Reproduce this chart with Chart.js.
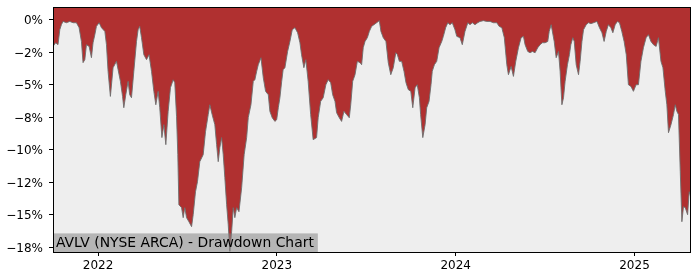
<!DOCTYPE html>
<html>
<head>
<meta charset="utf-8">
<script src="https://cdn.jsdelivr.net/npm/chart.js@4.4.1/dist/chart.umd.min.js"></script>
<style>
  html, body { margin: 0; padding: 0; background: #ffffff; }
  #wrap { width: 700px; height: 280px; position: relative; }
</style>
</head>
<body>
<div id="wrap"><canvas id="c" width="700" height="280"></canvas></div>
<script>
// Time (decimal years) and drawdown (%)
const years = [
  2021.748,2021.763,2021.776,2021.786,2021.795,2021.804,2021.823,2021.842,2021.860,2021.879,
  2021.894,2021.907,2021.916,2021.926,2021.935,2021.950,2021.963,2021.972,2021.982,2021.991,
  2022.006,2022.019,2022.038,2022.047,2022.056,2022.069,2022.084,2022.103,2022.112,2022.125,
  2022.137,2022.144,2022.155,2022.168,2022.177,2022.187,2022.200,2022.215,2022.224,2022.233,
  2022.243,2022.256,2022.271,2022.285,2022.299,2022.312,2022.323,2022.336,2022.345,2022.357,
  2022.368,2022.379,2022.392,2022.405,2022.420,2022.429,2022.439,2022.446,2022.452,2022.467,
  2022.476,2022.485,2022.495,2022.508,2022.523,2022.532,2022.545,2022.556,2022.569,2022.588,
  2022.601,2022.616,2022.625,2022.638,2022.653,2022.663,2022.672,2022.681,2022.691,2022.700,
  2022.709,2022.719,2022.728,2022.737,2022.747,2022.756,2022.765,2022.775,2022.788,2022.803,
  2022.817,2022.831,2022.840,2022.855,2022.868,2022.877,2022.887,2022.896,2022.911,2022.924,
  2022.937,2022.952,2022.961,2022.974,2022.989,2022.999,2023.008,2023.017,2023.027,2023.035,
  2023.045,2023.060,2023.073,2023.086,2023.101,2023.116,2023.129,2023.138,2023.151,2023.162,
  2023.175,2023.189,2023.203,2023.222,2023.231,2023.245,2023.259,2023.274,2023.287,2023.301,
  2023.312,2023.325,2023.334,2023.349,2023.362,2023.375,2023.390,2023.405,2023.413,2023.424,
  2023.437,2023.450,2023.465,2023.474,2023.483,2023.493,2023.506,2023.517,2023.530,2023.543,
  2023.558,2023.573,2023.582,2023.595,2023.610,2023.623,2023.637,2023.651,2023.665,2023.674,
  2023.685,2023.698,2023.711,2023.722,2023.735,2023.749,2023.760,2023.773,2023.785,2023.797,
  2023.804,2023.816,2023.829,2023.838,2023.851,2023.862,2023.869,2023.881,2023.894,2023.907,
  2023.922,2023.931,2023.944,2023.956,2023.968,2023.981,2023.996,2024.006,2024.024,2024.037,
  2024.052,2024.068,2024.080,2024.093,2024.108,2024.123,2024.136,2024.155,2024.174,2024.192,
  2024.211,2024.230,2024.243,2024.258,2024.272,2024.286,2024.295,2024.310,2024.323,2024.336,
  2024.351,2024.366,2024.379,2024.388,2024.403,2024.416,2024.429,2024.444,2024.459,2024.472,
  2024.485,2024.500,2024.515,2024.523,2024.534,2024.551,2024.562,2024.575,2024.584,2024.594,
  2024.603,2024.612,2024.625,2024.636,2024.644,2024.655,2024.663,2024.674,2024.687,2024.696,
  2024.706,2024.715,2024.730,2024.743,2024.756,2024.771,2024.790,2024.804,2024.818,2024.830,
  2024.842,2024.854,2024.868,2024.879,2024.892,2024.905,2024.916,2024.929,2024.942,2024.954,
  2024.966,2024.980,2024.994,2025.009,2025.022,2025.036,2025.050,2025.065,2025.078,2025.092,
  2025.106,2025.121,2025.134,2025.148,2025.159,2025.172,2025.181,2025.190,2025.204,2025.218,
  2025.228,2025.237,2025.246,2025.256,2025.265,2025.274,2025.284,2025.297,2025.306,2025.314
];
const drawdown = [
  -2.03,-1.75,-1.90,-0.75,-0.36,-0.11,-0.21,-0.11,-0.21,-0.21,
  -0.59,-1.65,-3.28,-3.05,-1.90,-2.03,-2.90,-1.75,-1.13,-0.49,
  -0.21,-0.59,-0.88,-1.90,-3.95,-5.88,-3.67,-3.18,-3.82,-4.72,
  -5.88,-6.75,-5.75,-4.72,-5.75,-5.98,-3.95,-1.65,-0.75,-0.49,
  -1.36,-2.67,-3.05,-2.67,-3.95,-5.49,-6.52,-5.49,-6.75,-9.05,
  -8.05,-9.59,-7.03,-5.21,-4.60,-4.82,-7.44,-10.36,-14.21,-14.44,
  -15.21,-14.44,-15.21,-15.52,-15.90,-14.98,-13.21,-12.44,-10.90,-10.36,
  -8.59,-7.28,-6.52,-7.28,-8.05,-9.59,-10.90,-9.82,-9.05,-10.36,
  -12.13,-14.21,-15.75,-17.80,-16.29,-14.44,-15.21,-14.44,-14.75,-12.90,
  -10.36,-9.05,-7.51,-6.52,-4.72,-4.59,-3.95,-3.44,-2.90,-4.44,
  -5.49,-5.75,-7.03,-7.52,-7.80,-7.67,-6.75,-5.98,-4.72,-3.82,
  -3.67,-2.42,-1.65,-0.75,-0.59,-0.98,-1.75,-2.67,-3.67,-3.05,
  -4.72,-7.28,-9.21,-9.05,-7.52,-6.26,-5.98,-4.98,-4.59,-4.82,
  -5.75,-6.26,-7.13,-7.52,-7.80,-7.03,-7.28,-7.52,-6.52,-4.72,
  -4.21,-3.18,-3.28,-3.44,-2.13,-1.65,-1.36,-0.88,-0.49,-0.36,
  -0.21,-0.05,-0.88,-1.36,-1.65,-3.28,-4.21,-3.67,-2.52,-2.67,
  -3.18,-3.18,-3.95,-4.82,-5.36,-5.49,-6.75,-5.21,-4.98,-5.98,
  -7.28,-9.05,-8.05,-6.75,-6.26,-4.98,-3.95,-3.44,-3.18,-2.13,
  -1.65,-1.26,-0.59,-0.21,-0.36,-0.21,-0.75,-1.26,-1.36,-1.90,
  -0.88,-0.21,-0.36,-0.21,-0.36,-0.21,-0.11,-0.05,-0.11,-0.11,
  -0.21,-0.21,-0.49,-0.59,-1.36,-3.44,-4.21,-3.57,-4.34,-3.18,
  -2.13,-1.36,-1.26,-1.90,-2.42,-2.52,-2.42,-2.52,-2.13,-1.90,
  -1.75,-1.75,-1.65,-0.88,-0.36,-1.65,-2.90,-2.42,-3.95,-6.52,
  -5.98,-4.72,-3.44,-2.67,-1.90,-1.36,-1.65,-3.44,-4.21,-3.18,
  -1.65,-0.75,-0.36,-0.21,-0.28,-0.21,-0.11,-0.59,-0.98,-1.65,
  -0.88,-0.36,-0.59,-0.98,-0.36,-0.11,-0.21,-0.88,-1.65,-2.67,
  -4.98,-5.11,-5.49,-4.98,-4.98,-3.18,-2.13,-1.36,-1.13,-1.65,
  -1.90,-2.03,-1.36,-3.18,-3.67,-5.49,-6.52,-8.67,-8.05,-7.28,
  -6.52,-7.03,-7.28,-11.67,-15.52,-14.36,-14.44,-14.98,-13.21,-13.60
];
const xTickValues = [2022, 2023, 2024, 2025];
const xTickLabels = ["2022", "2023", "2024", "2025"];
const yTickValues = [0, -2.5, -5, -7.5, -10, -12.5, -15, -17.5];
const yTickLabels = ["0%", "\u22122%", "\u22125%", "\u22128%", "\u221210%", "\u221212%", "\u221215%", "\u221218%"];
const titleText = "AVLV (NYSE ARCA) - Drawdown Chart";

const points = years.map((x, i) => ({ x: x, y: drawdown[i] }));

const decor = {
  id: 'decor',
  beforeDraw(chart) {
    const { ctx, chartArea: a } = chart;
    ctx.save();
    ctx.fillStyle = '#eeeeee';
    ctx.fillRect(a.left, a.top, a.right - a.left, a.bottom - a.top);
    ctx.restore();
  },
  afterDraw(chart) {
    const { ctx, chartArea: a } = chart;
    ctx.save();
    // label box
    ctx.font = '13.9px "DejaVu Sans"';
    const w = ctx.measureText(titleText).width;
    ctx.fillStyle = 'rgba(128,128,128,0.52)';
    ctx.fillRect(a.left, a.bottom - 18.6, w + 7, 18.6);
    ctx.fillStyle = '#000';
    ctx.textBaseline = 'alphabetic';
    ctx.textAlign = 'left';
    ctx.fillText(titleText, a.left + 3, a.bottom - 4.6);
    // frame
    ctx.strokeStyle = '#000';
    ctx.lineWidth = 1;
    ctx.strokeRect(Math.round(a.left) + 0.5, Math.round(a.top) + 0.5,
                   Math.round(a.right - a.left) - 1, Math.round(a.bottom - a.top));
    ctx.restore();
  }
};

new Chart(document.getElementById('c'), {
  type: 'line',
  data: {
    datasets: [{
      data: points,
      borderColor: 'rgba(110,110,110,0.9)',
      borderWidth: 1,
      backgroundColor: '#b03030',
      fill: 'end',
      pointRadius: 0,
      tension: 0
    }]
  },
  options: {
    responsive: false,
    animation: false,
    events: [],
    layout: { padding: { top: 7, right: 9, left: 0, bottom: 0 } },
    plugins: { legend: { display: false }, tooltip: { enabled: false } },
    scales: {
      x: {
        type: 'linear',
        min: 2021.748,
        max: 2025.316,
        afterBuildTicks(scale) { scale.ticks = xTickValues.map(v => ({ value: v })); },
        afterFit(scale) { scale.height = 28; scale.paddingLeft = 0; scale.paddingRight = 0; },
        ticks: {
          callback: (v) => xTickLabels[xTickValues.indexOf(v)],
          font: { family: 'DejaVu Sans', size: 12 },
          color: '#000',
          padding: 3,
          maxRotation: 0,
          autoSkip: false
        },
        grid: { drawOnChartArea: false, drawTicks: true, tickLength: 4, color: '#000' },
        border: { display: false }
      },
      y: {
        min: -17.85,
        max: 1.0,
        afterBuildTicks(scale) { scale.ticks = yTickValues.map(v => ({ value: v })); },
        afterFit(scale) { scale.width = 53; scale.paddingTop = 0; scale.paddingBottom = 0; },
        ticks: {
          callback: (v) => yTickLabels[yTickValues.indexOf(v)],
          font: { family: 'DejaVu Sans', size: 12 },
          color: '#000',
          padding: 6,
          labelOffset: 1,
          autoSkip: false
        },
        grid: { drawOnChartArea: false, drawTicks: true, tickLength: 4, color: '#000' },
        border: { display: false }
      }
    }
  },
  plugins: [decor]
});
</script>
</body>
</html>
